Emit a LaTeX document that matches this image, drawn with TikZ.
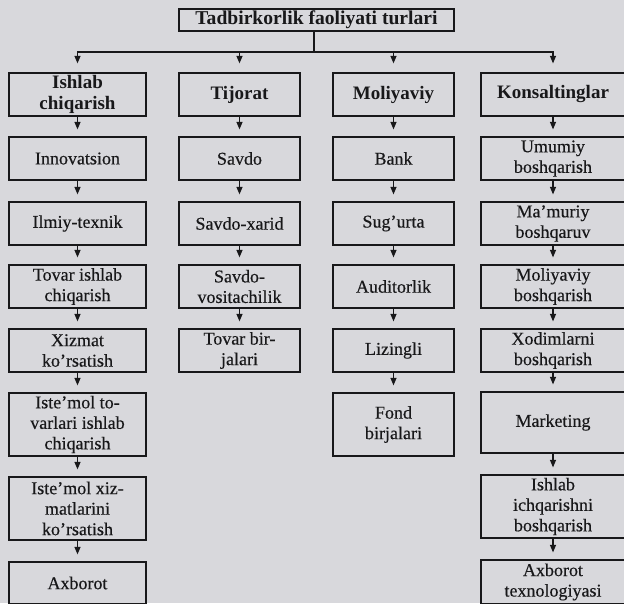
\documentclass[tikz,border=0pt]{standalone}
\usepackage{fontspec}
\setmainfont{Liberation Serif}
\newfontfamily\regfont{Liberation Serif}[FakeBold=0.35]
\usetikzlibrary{arrows.meta}
\definecolor{bg}{RGB}{216,216,220}
\definecolor{ink}{RGB}{24,24,26}
\begin{document}
\begin{tikzpicture}[x=1pt,y=-1pt,
  box/.style={draw=ink,line width=1.2pt,inner sep=0pt,align=center,text=ink,
    font=\regfont\fontsize{18}{20.5}\selectfont},
  hd/.style={box,font=\bfseries\fontsize{19}{21}\selectfont},
  cA/.style={minimum width=137pt},
  cB/.style={minimum width=121pt},
  cC/.style={minimum width=121pt},
  cD/.style={minimum width=144pt},
  hS/.style={minimum height=43pt},
  hT/.style={minimum height=63pt},
  arr/.style={draw=ink,line width=1.1pt,-{Triangle[length=7.5pt,width=6pt]},shorten >=7pt},
  link/.style={draw=ink,line width=1.1pt}]
\fill[bg] (0,0) rectangle (624,603);
\useasboundingbox (0,0) rectangle (624,603);

% title
\node[hd,font=\bfseries\fontsize{19.6}{21}\selectfont,minimum width=275pt,minimum height=22pt] (t) at (316.5,20) {Tadbirkorlik faoliyati turlari};
\coordinate (hub) at (314,52);

% row 0
\node[hd,cA,hS] (a0) at (77.5,94.5) {Ishlab\\chiqarish};
\node[hd,cB,hS] (b0) at (239.5,94.5) {Tijorat};
\node[hd,cC,hS] (c0) at (393.5,94.5) {Moliyaviy};
\node[hd,cD,hS] (d0) at (553,94.5) {Konsaltinglar};

% column 1
\node[box,cA,hS] (a1) at (77.5,158.5) {Innovatsion};
\node[box,cA,hS] (a2) at (77.5,223.5) {Ilmiy-texnik};
\node[box,cA,hS] (a3) at (77.5,286.5) {Tovar ishlab\\chiqarish};
\node[box,cA,hS] (a4) at (77.5,350.5) {Xizmat\\ko’rsatish};
\node[box,cA,hT] (a5) at (77.5,424.5) {Iste’mol to-\\varlari ishlab\\chiqarish};
\node[box,cA,hT] (a6) at (77.5,508.5) {Iste’mol xiz-\\matlarini\\ko’rsatish};
\node[box,cA,minimum height=42pt] (a7) at (77.5,583) {Axborot};

% column 2
\node[box,cB,hS] (b1) at (239.5,158.5) {Savdo};
\node[box,cB,hS] (b2) at (239.5,223.5) {Savdo-xarid};
\node[box,cB,hS] (b3) at (239.5,286.5) {Savdo-\\vositachilik};
\node[box,cB,hS] (b4) at (239.5,350.5) {Tovar bir-\\jalari};

% column 3
\node[box,cC,hS] (c1) at (393.5,158.5) {Bank};
\node[box,cC,hS] (c2) at (393.5,223.5) {Sug’urta};
\node[box,cC,hS] (c3) at (393.5,286.5) {Auditorlik};
\node[box,cC,hS] (c4) at (393.5,350.5) {Lizingli};
\node[box,cC,hT] (c5) at (393.5,424.5) {Fond\\birjalari};

% column 4
\node[box,cD,hS] (d1) at (553,158.5) {Umumiy\\boshqarish};
\node[box,cD,hS] (d2) at (553,223.5) {Ma’muriy\\boshqaruv};
\node[box,cD,hS] (d3) at (553,286.5) {Moliyaviy\\boshqarish};
\node[box,cD,hS] (d4) at (553,350.5) {Xodimlarni\\boshqarish};
\node[box,cD,minimum height=61pt] (d5) at (553,422.5) {Marketing};
\node[box,cD,hT] (d6) at (553,506.5) {Ishlab\\ichqarishni\\boshqarish};
\node[box,cD,minimum height=44pt] (d7) at (553,582) {Axborot\\texnologiyasi};

% connectors from title
\draw[link] (t.south -| hub) -- (hub);
\foreach \n in {a0,b0,c0,d0}{\draw[arr,shorten >=9pt] (hub) -| (\n.north);}

% column connectors
\foreach \u/\v in {a0/a1,a1/a2,a2/a3,a3/a4,a4/a5,a5/a6,a6/a7,
                   b0/b1,b1/b2,b2/b3,b3/b4,
                   c0/c1,c1/c2,c2/c3,c3/c4,c4/c5,
                   d0/d1,d1/d2,d2/d3,d3/d4,d4/d5,d5/d6,d6/d7}
  {\draw[arr] (\u.south) -- (\v.north);}
\end{tikzpicture}
\end{document}
